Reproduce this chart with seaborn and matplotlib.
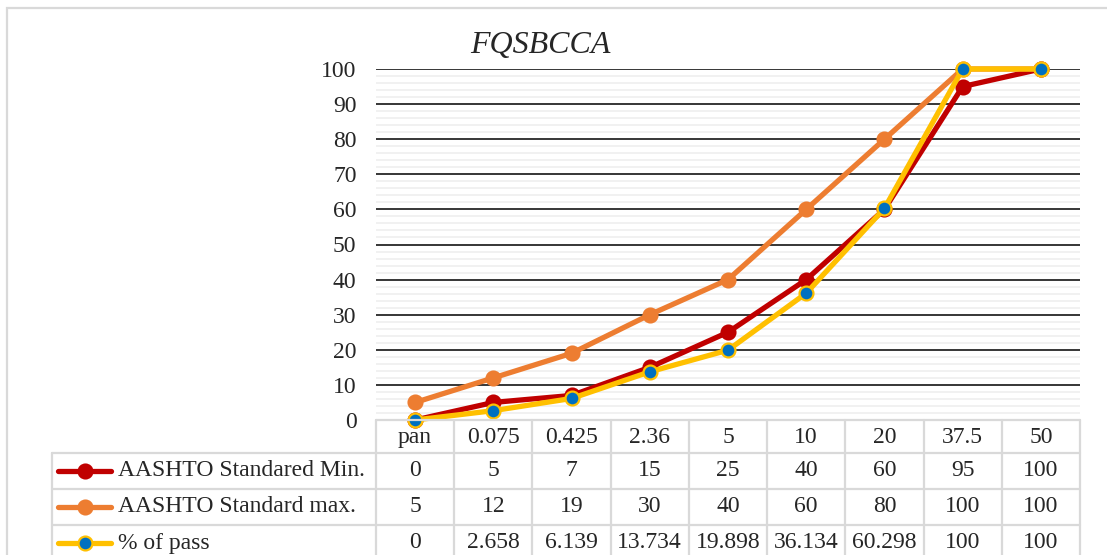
import numpy as np
import pandas as pd
import matplotlib
matplotlib.use("Agg")
import matplotlib.pyplot as plt
import seaborn as sns
from matplotlib.transforms import blended_transform_factory
from matplotlib.lines import Line2D
from matplotlib.patches import Rectangle

sns.set_theme(style="white")
plt.rcParams['font.family'] = ['Liberation Serif', 'DejaVu Serif']

# ---------------- data ----------------
categories = ["pan", "0.075", "0.425", "2.36", "5", "10", "20", "37.5", "50"]
aashto_min = [0, 5, 7, 15, 25, 40, 60, 95, 100]
aashto_max = [5, 12, 19, 30, 40, 60, 80, 100, 100]
pct_pass = [0, 2.658, 6.139, 13.734, 19.898, 36.134, 60.298, 100, 100]
series_names = ["AASHTO Standared Min.", "AASHTO Standard max.", "% of pass"]
title = "FQSBCCA"
y_ticks = [0, 10, 20, 30, 40, 50, 60, 70, 80, 90, 100]

# ---------------- layout ----------------
W, H = 1107, 555
fig = plt.figure(figsize=(W / 100, H / 100), dpi=100)
def fx(px): return px / W
def fy(py): return 1 - py / H

plot_l, plot_r, plot_t, plot_b = 376, 1080, 69, 420
ax = fig.add_axes([fx(plot_l), fy(plot_b), fx(plot_r) - fx(plot_l), fy(plot_t) - fy(plot_b)])

# outer chart border
fig.patches.append(Rectangle((fx(7), fy(560)), fx(1120) - fx(7), fy(8) - fy(560),
                             transform=fig.transFigure, fill=False,
                             edgecolor="#d9d9d9", linewidth=1.6, zorder=0))

x = np.arange(len(categories))
df = pd.DataFrame({"x": np.tile(x, 3),
                   "y": aashto_min + aashto_max + pct_pass,
                   "series": np.repeat(series_names, len(categories))})

colors = {"AASHTO Standared Min.": "#C00000",
          "AASHTO Standard max.": "#ED7D31",
          "% of pass": "#FFC000"}
mface = {"AASHTO Standared Min.": "#C00000",
         "AASHTO Standard max.": "#ED7D31",
         "% of pass": "#0070C0"}

for i, name in enumerate(series_names):
    sub = df[df.series == name]
    sns.lineplot(data=sub, x="x", y="y", ax=ax, color=colors[name], linewidth=3.8,
                 marker="o", markersize=10, markerfacecolor=mface[name],
                 markeredgecolor=colors[name], markeredgewidth=1.6,
                 legend=False, clip_on=False, zorder=5 + i)

ax.set_xlim(-0.5, len(categories) - 0.5)
ax.set_ylim(0, 100)
ax.set_xticks([])
ax.set_yticks(y_ticks)
ax.set_yticklabels([str(t) for t in y_ticks], fontsize=17)
ax.tick_params(axis="y", length=0, pad=14)
ax.set_xlabel("")
ax.set_ylabel("")
for s in ax.spines.values():
    s.set_visible(False)

# gridlines
for v in np.arange(2, 100, 2):
    if v % 10:
        ax.axhline(v, color="#f0f0f0", linewidth=1.3, zorder=1)
for v in y_ticks[1:]:
    ax.axhline(v, color="black", linewidth=1.1, zorder=2)

fig.text(fx(540), fy(46), title, fontsize=23, style="italic", ha="center", va="center")

# ---------------- data table ----------------
tr = blended_transform_factory(ax.transData, fig.transFigure)
grid_c = "#d9d9d9"
row_h = 36
head_top = 420
rows_top = 453
tbl_left = 52
fs = 17

edges = np.arange(len(categories) + 1) - 0.5
for e in edges:
    fig.add_artist(Line2D([e, e], [fy(head_top), fy(H + 10)], transform=tr,
                          color=grid_c, linewidth=1.6))
fig.add_artist(Line2D([fx(plot_l), fx(plot_r)], [fy(head_top)] * 2,
                      transform=fig.transFigure, color=grid_c, linewidth=1.6))
for k in range(4):
    yy = rows_top + k * row_h
    fig.add_artist(Line2D([fx(tbl_left), fx(plot_r)], [fy(yy)] * 2,
                          transform=fig.transFigure, color=grid_c, linewidth=1.6))
fig.add_artist(Line2D([fx(tbl_left), fx(tbl_left)], [fy(rows_top), fy(H + 10)],
                      transform=fig.transFigure, color=grid_c, linewidth=1.6))

for xi, c in zip(x, categories):
    fig.text(xi, fy((head_top + rows_top) / 2 + 1), c, transform=tr, ha="center",
             va="center", fontsize=fs)

all_vals = [aashto_min, aashto_max, pct_pass]
for r, (name, vals) in enumerate(zip(series_names, all_vals)):
    cy = fy(rows_top + r * row_h + row_h / 2)
    for xi, v in zip(x, vals):
        fig.text(xi, cy, f"{v:g}", transform=tr, ha="center", va="center", fontsize=fs)
    # legend key
    fig.add_artist(Line2D([fx(58), fx(111)], [cy, cy], transform=fig.transFigure,
                          color=colors[name], linewidth=3.8, solid_capstyle="round"))
    fig.add_artist(Line2D([fx(84.5)], [cy], transform=fig.transFigure, marker="o",
                          markersize=10, markerfacecolor=mface[name],
                          markeredgecolor=colors[name], markeredgewidth=1.6,
                          linestyle="none"))
    fig.text(fx(118), cy, name, ha="left", va="center", fontsize=fs)

fig.savefig("out.png", dpi=100)
